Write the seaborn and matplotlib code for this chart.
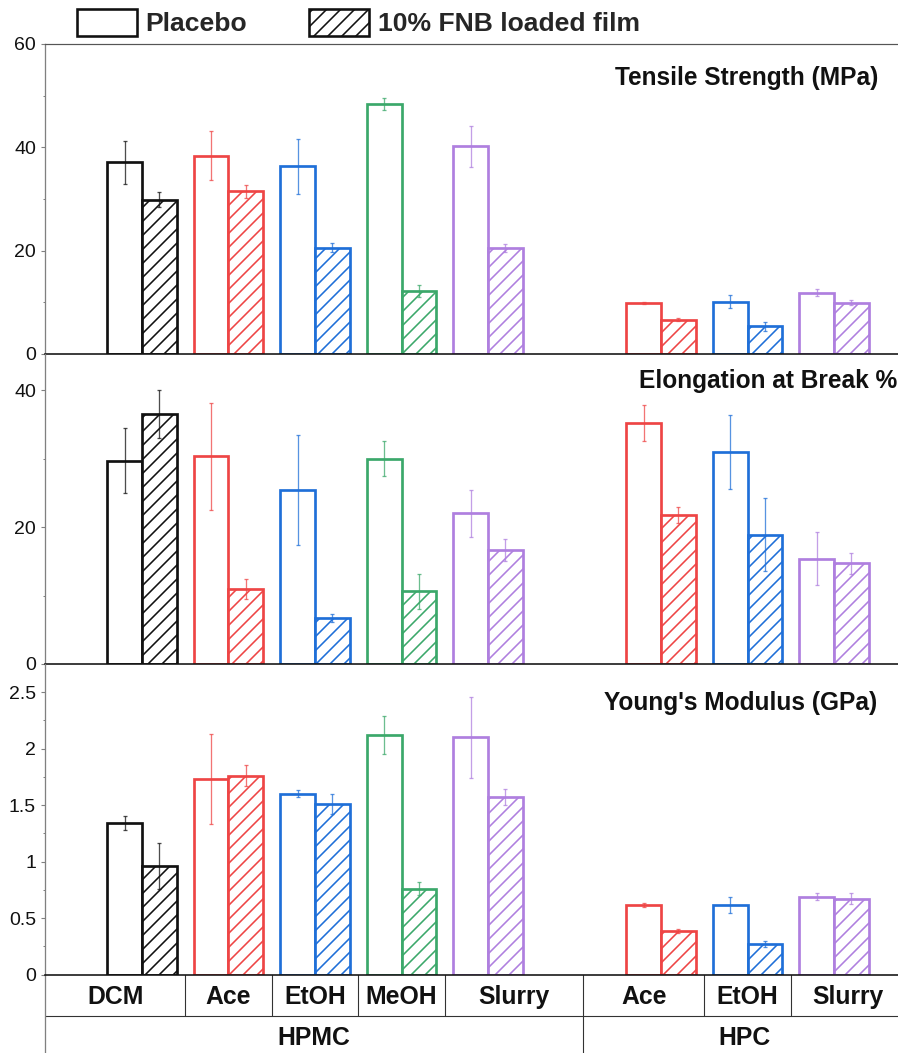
import matplotlib
matplotlib.use("Agg")
import matplotlib.pyplot as plt
import matplotlib.transforms as mtransforms
from matplotlib.patches import Patch
from matplotlib.ticker import MultipleLocator, FuncFormatter
import numpy as np
import pandas as pd
import seaborn as sns

# ---------------------------------------------------------------- data
polymers = ["HPMC", "HPMC", "HPMC", "HPMC", "HPMC", "HPC", "HPC", "HPC"]
solvents = ["DCM", "Ace", "EtOH", "MeOH", "Slurry", "Ace", "EtOH", "Slurry"]
formulations = ["Placebo", "10% FNB loaded film"]

tensile_placebo = [37.1, 38.4, 36.3, 48.4, 40.2, 9.9, 10.1, 11.9]
tensile_placebo_sd = [4.2, 4.8, 5.4, 1.2, 4.0, 0.2, 1.25, 0.75]
tensile_loaded = [29.9, 31.5, 20.6, 12.2, 20.5, 6.65, 5.35, 9.9]
tensile_loaded_sd = [1.5, 1.3, 0.9, 1.2, 0.85, 0.3, 0.9, 0.5]

elong_placebo = [29.7, 30.3, 25.4, 30.0, 22.0, 35.2, 30.9, 15.4]
elong_placebo_sd = [4.8, 7.85, 8.0, 2.6, 3.4, 2.6, 5.4, 3.9]
elong_loaded = [36.5, 10.95, 6.75, 10.6, 16.7, 21.75, 18.9, 14.7]
elong_loaded_sd = [3.55, 1.45, 0.6, 2.5, 1.6, 1.1, 5.3, 1.5]

young_placebo = [1.34, 1.73, 1.60, 2.12, 2.10, 0.617, 0.617, 0.69]
young_placebo_sd = [0.06, 0.40, 0.03, 0.17, 0.36, 0.02, 0.07, 0.03]
young_loaded = [0.96, 1.76, 1.51, 0.76, 1.57, 0.386, 0.27, 0.67]
young_loaded_sd = [0.20, 0.09, 0.09, 0.06, 0.07, 0.02, 0.03, 0.05]

panel_titles = ["Tensile Strength (MPa)", "Elongation at Break %", "Young's Modulus (GPa)"]

solvent_colors = {
    "DCM": "#111111",
    "Ace": "#EE4545",
    "EtOH": "#1F6FD8",
    "MeOH": "#3BA86A",
    "Slurry": "#AF7FDF",
}

# ---------------------------------------------------------------- style
DPI = 84
W, H = 898, 1053


def pt(px):
    return px * 72.0 / DPI


def fy(px):
    return 1.0 - px / H


sns.set_theme(style="ticks")
plt.rcParams["font.family"] = ["Liberation Sans", "DejaVu Sans"]
plt.rcParams["hatch.linewidth"] = pt(1.6)

keys = [f"{p} {s}" for p, s in zip(polymers, solvents)]
order = keys[:5] + ["_gap"] + keys[5:]
slot_to_idx = {order.index(k): j for j, k in enumerate(keys)}

X0_PX, X1_PX = 45, 905
XLIM = (-1.121, 8.82)

fig = plt.figure(figsize=(W / DPI, H / DPI), dpi=DPI)

panel_px = [(44, 354), (354, 664), (664, 974.5)]
axes = [fig.add_axes([X0_PX / W, fy(b), (X1_PX - X0_PX) / W, (b - t) / H])
        for t, b in panel_px]

panels = [
    (tensile_placebo, tensile_placebo_sd, tensile_loaded, tensile_loaded_sd,
     (0, 60), 20, 10),
    (elong_placebo, elong_placebo_sd, elong_loaded, elong_loaded_sd,
     (0, 45.26), 20, 10),
    (young_placebo, young_placebo_sd, young_loaded, young_loaded_sd,
     (0, 2.748), 0.5, 0.25),
]

for k, (ax, (pl, pl_sd, ld, ld_sd, ylim, major, minor)) in enumerate(zip(axes, panels)):
    df = pd.DataFrame({
        "key": keys + keys,
        "formulation": [formulations[0]] * len(keys) + [formulations[1]] * len(keys),
        "value": list(pl) + list(ld),
    })
    sns.barplot(data=df, x="key", y="value", hue="formulation", order=order,
                hue_order=formulations, width=0.8, errorbar=None, legend=False,
                saturation=1, ax=ax)
    means = [pl, ld]
    sds = [pl_sd, ld_sd]
    for bar in list(ax.patches):
        cx = bar.get_x() + bar.get_width() / 2
        slot = int(round(cx))
        if slot not in slot_to_idx:
            continue
        i = slot_to_idx[slot]
        level = 0 if cx < slot else 1
        c = solvent_colors[solvents[i]]
        bar.set_facecolor("white")
        bar.set_edgecolor(c)
        bar.set_linewidth(pt(2.7))
        if level == 1:
            bar.set_hatch("//")
        ax.errorbar(cx, means[level][i], yerr=sds[level][i], fmt="none",
                    ecolor=c, elinewidth=pt(1.3), capsize=pt(2.4),
                    capthick=pt(1.3), alpha=0.75, zorder=4)

    ax.set_xlim(*XLIM)
    ax.set_ylim(*ylim)
    ax.set_xlabel("")
    ax.set_ylabel("")
    ax.set_xticks([])
    ax.tick_params(axis="x", bottom=False, labelbottom=False)
    ax.yaxis.set_major_locator(MultipleLocator(major))
    ax.yaxis.set_minor_locator(MultipleLocator(minor))
    ax.yaxis.set_major_formatter(FuncFormatter(lambda v, p: f"{v:g}"))
    ax.tick_params(axis="y", which="major", direction="out", length=pt(4),
                   width=pt(1.1), color="#808080", labelsize=pt(19.5),
                   pad=pt(5), labelcolor="#111111")
    ax.tick_params(axis="y", which="minor", direction="out", length=pt(2.5),
                   width=pt(1.0), color="#808080", left=True)
    ax.spines["right"].set_visible(False)
    ax.spines["top"].set_visible(k == 0)
    ax.spines["top"].set_color("#555555")
    ax.spines["top"].set_linewidth(pt(1.2))
    ax.spines["left"].set_color("#808080")
    ax.spines["left"].set_linewidth(pt(1.3))
    ax.spines["bottom"].set_color("#111111")
    ax.spines["bottom"].set_linewidth(pt(1.6))
    ax.spines["bottom"].set_zorder(5)
    ax.patch.set_alpha(0)

# panel titles
title_pos = [(878, 85), (897, 388), (877, 710)]
for title, (tx, ty) in zip(panel_titles, title_pos):
    fig.text(tx / W, fy(ty), title, ha="right", va="baseline",
             fontsize=pt(24.5), fontweight="bold", color="#111111")

# category table under the bottom panel
ax = axes[-1]
trans = mtransforms.blended_transform_factory(ax.transData, fig.transFigure)
row_top, row_mid, row_bot = 974.5, 1015.7, 1053
line_kw = dict(transform=trans, clip_on=False, color="#333333", lw=pt(1.1))
split = 5.1
for xb in [0.5, 1.5, 2.5, 3.5, 6.5, 7.5]:
    ax.plot([xb, xb], [fy(row_top), fy(row_mid)], **line_kw)
ax.plot([split, split], [fy(row_top), fy(row_bot)], **line_kw)
ax.plot([XLIM[0], XLIM[1]], [fy(row_mid), fy(row_mid)], **line_kw)
ax.plot([XLIM[0], XLIM[0]], [fy(row_top), fy(row_bot)], transform=trans,
        clip_on=False, color="#808080", lw=pt(1.3))

bounds = [XLIM[0], 0.5, 1.5, 2.5, 3.5, split, 6.5, 7.5, XLIM[1]]
for i, s in enumerate(solvents):
    cx = (bounds[i] + bounds[i + 1]) / 2
    ax.text(cx, fy(1004), s, transform=trans, ha="center", va="baseline",
            fontsize=pt(24.8), fontweight="bold", color="#111111")
poly_bounds = {"HPMC": (XLIM[0], split), "HPC": (split, XLIM[1])}
for p, (a, b) in poly_bounds.items():
    ax.text((a + b) / 2, fy(1045), p, transform=trans, ha="center",
            va="baseline", fontsize=pt(24.8), fontweight="bold", color="#111111")
ax.set_xlim(*XLIM)

# legend
handles = [
    Patch(facecolor="white", edgecolor="#111111", linewidth=pt(2.6)),
    Patch(facecolor="white", edgecolor="#111111", linewidth=pt(2.6), hatch="//"),
]
fig.legend(handles, formulations, loc="upper left",
           bbox_to_anchor=(74 / W, fy(6)), ncol=2, frameon=False,
           prop={"weight": "bold", "size": pt(26.5)},
           handlelength=2.26, handleheight=1.2, handletextpad=0.34,
           columnspacing=2.34, borderpad=0.1, borderaxespad=0)

fig.savefig("out.png", dpi=DPI)
